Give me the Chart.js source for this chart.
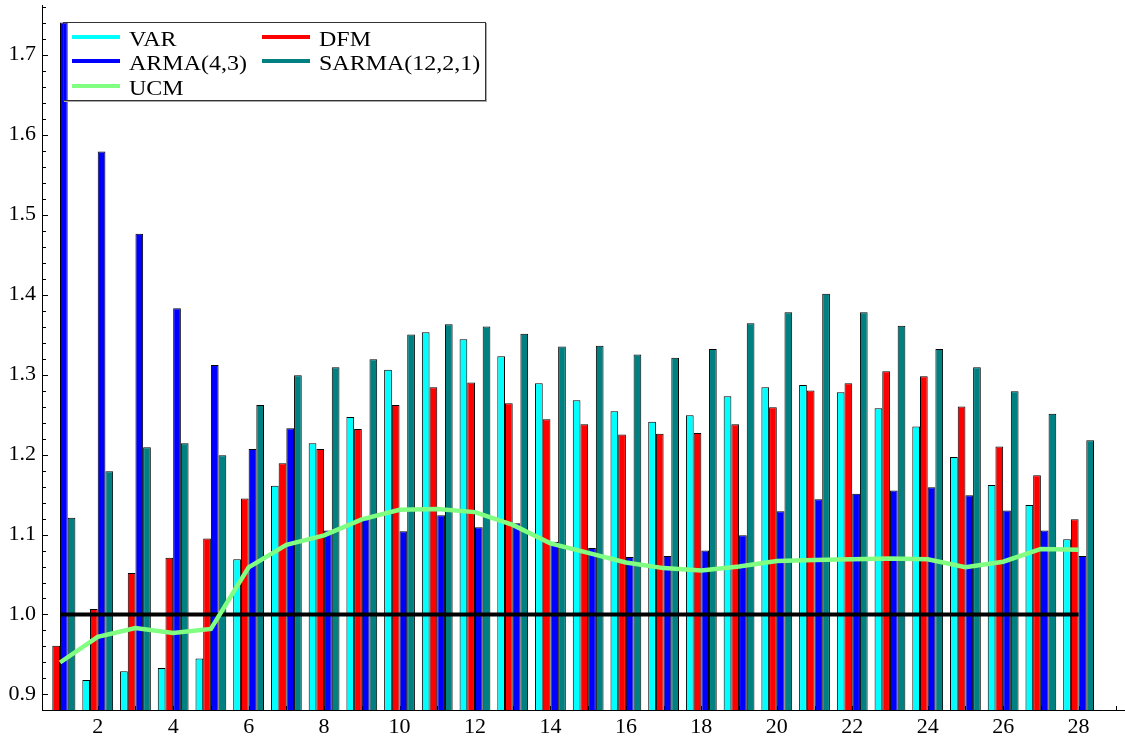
<!DOCTYPE html>
<html>
<head>
<meta charset="utf-8">
<script src="https://cdn.jsdelivr.net/npm/chart.js@4/dist/chart.umd.min.js"></script>
<style>
  html, body { margin: 0; padding: 0; background: #fff; }
  #wrap { position: relative; width: 1125px; height: 737px; }
  #legend {
    position: absolute; left: 63px; top: 22px; width: 423px; height: 79px;
    box-sizing: border-box; border: 1px solid #333; box-shadow: 1px 1px 0 #aaa;
    font-family: "Liberation Serif", "Times New Roman", Times, serif; font-size: 20.5px; color: #000;
  }
  .item { position: absolute; height: 24px; line-height: 24px; display: flex; align-items: center; white-space: nowrap; }
  .swatch { width: 48px; height: 4px; margin-right: 9px; position: relative; top: -2px; flex: none; }
  .label { display: inline-block; transform: scaleX(1.17); transform-origin: 0 50%; }
</style>
</head>
<body>
<div id="wrap">
  <canvas id="c" width="1125" height="737"></canvas>
  <div id="legend"></div>
</div>
<script>
// Forecast horizon (months ahead)
const horizons = [1, 2, 3, 4, 5, 6, 7, 8, 9, 10, 11, 12, 13, 14, 15, 16, 17, 18, 19, 20, 21, 22, 23, 24, 25, 26, 27, 28];

// Relative forecast error of each model per horizon
const varRatio   = [null, 0.918, 0.929, 0.933, 0.945, 1.069, 1.161, 1.214, 1.247, 1.306, 1.353, 1.344, 1.323, 1.289,
                    1.268, 1.254, 1.241, 1.249, 1.273, 1.284, 1.287, 1.278, 1.258, 1.235, 1.197, 1.162, 1.137, 1.094];
const dfmRatio   = [0.961, 1.007, 1.052, 1.071, 1.095, 1.145, 1.189, 1.207, 1.232, 1.262, 1.284, 1.290, 1.264, 1.244,
                    1.238, 1.225, 1.226, 1.227, 1.238, 1.259, 1.280, 1.289, 1.304, 1.298, 1.260, 1.210, 1.174, 1.119];
const armaRatio  = [1.740, 1.579, 1.476, 1.383, 1.312, 1.207, 1.233, 1.105, 1.119, 1.104, 1.124, 1.109, 1.114, 1.091,
                    1.083, 1.072, 1.073, 1.080, 1.099, 1.129, 1.144, 1.151, 1.155, 1.159, 1.149, 1.130, 1.105, 1.073];
const sarmaRatio = [1.121, 1.179, 1.209, 1.214, 1.199, 1.262, 1.299, 1.309, 1.319, 1.350, 1.363, 1.360, 1.351, 1.335,
                    1.336, 1.325, 1.321, 1.332, 1.364, 1.378, 1.401, 1.378, 1.361, 1.332, 1.309, 1.279, 1.251, 1.218];
const ucmRatio   = [0.940, 0.972, 0.983, 0.977, 0.982, 1.059, 1.087, 1.099, 1.119, 1.131, 1.132, 1.128, 1.112, 1.089,
                    1.077, 1.065, 1.058, 1.055, 1.060, 1.067, 1.068, 1.069, 1.070, 1.069, 1.059, 1.066, 1.082, 1.081];

// Benchmark level (ratio = 1)
const benchmark = 1.0;

// Axis tick labels
const xTickValues = [2, 4, 6, 8, 10, 12, 14, 16, 18, 20, 22, 24, 26, 28];
const yTickValues = [0.9, 1.0, 1.1, 1.2, 1.3, 1.4, 1.5, 1.6, 1.7];

const SERIF = '"Liberation Serif", "Times New Roman", Times, serif';

const toPoints = values => horizons.map((h, i) => ({ x: h, y: values[i] }));

const barSeries = (label, values, color) => ({
  type: 'bar', label, data: toPoints(values),
  backgroundColor: color, borderColor: '#000', borderWidth: 1,
  barPercentage: 1.0, categoryPercentage: 0.816, order: 2
});

// Inward tick marks on the left and bottom axes
const innerTicks = {
  id: 'innerTicks',
  beforeDatasetsDraw(chart) {
    const { ctx, chartArea: a, scales: { x, y } } = chart;
    ctx.save();
    ctx.strokeStyle = '#000';
    ctx.lineWidth = 1;
    ctx.beginPath();
    for (let k = 44; k <= 88; k++) {
      const py = Math.round(y.getPixelForValue(k / 50)) + 0.5;
      if (py < a.top || py > a.bottom) continue;
      const len = (k % 5 === 0) ? 6 : 4;
      ctx.moveTo(a.left, py);
      ctx.lineTo(a.left + len, py);
    }
    for (let v = 1; v <= 29; v++) {
      const px = Math.round(x.getPixelForValue(v)) + 0.5;
      ctx.moveTo(px, a.bottom);
      ctx.lineTo(px, a.bottom - 4);
    }
    ctx.stroke();
    ctx.restore();
  }
};

new Chart(document.getElementById('c'), {
  type: 'bar',
  data: {
    datasets: [
      {
        type: 'line', label: 'UCM', data: toPoints(ucmRatio),
        borderColor: '#80ff80', borderWidth: 4.5, pointRadius: 0, tension: 0, fill: false, order: 0
      },
      {
        type: 'line', label: 'benchmark',
        data: [{ x: horizons[0], y: benchmark }, { x: horizons[horizons.length - 1], y: benchmark }],
        borderColor: '#000', borderWidth: 4, pointRadius: 0, fill: false, order: 1
      },
      barSeries('VAR', varRatio, '#00ffff'),
      barSeries('DFM', dfmRatio, '#ff0000'),
      barSeries('ARMA(4,3)', armaRatio, '#0000ff'),
      barSeries('SARMA(12,2,1)', sarmaRatio, '#008080')
    ]
  },
  options: {
    responsive: false,
    devicePixelRatio: 1,
    animation: false,
    events: [],
    layout: { padding: { top: 5, right: 0, left: 0, bottom: 0 } },
    plugins: { legend: { display: false }, tooltip: { enabled: false } },
    scales: {
      x: {
        type: 'linear', min: 0.523, max: 29.23, offset: false,
        grid: { display: false, drawTicks: false },
        border: { display: true, color: '#000', width: 1 },
        afterBuildTicks: s => { s.ticks = xTickValues.map(v => ({ value: v })); },
        afterFit: s => { s.height = 27; s.paddingLeft = 0; s.paddingRight = 0; },
        ticks: {
          autoSkip: false, maxRotation: 0, padding: 4, color: '#000',
          font: { family: SERIF, size: 22 },
          callback: v => String(v)
        }
      },
      y: {
        type: 'linear', min: 0.8806, max: 1.762,
        grid: { display: false, drawTicks: false },
        border: { display: true, color: '#000', width: 1 },
        afterBuildTicks: s => { s.ticks = yTickValues.map(v => ({ value: v })); },
        afterFit: s => { s.width = 42; s.paddingTop = 0; s.paddingBottom = 0; },
        ticks: {
          padding: 6, color: '#000',
          font: { family: SERIF, size: 22 },
          callback: v => Number(v).toFixed(1)
        }
      }
    }
  },
  plugins: [innerTicks]
});

// Legend: two columns, three rows
const legendItems = [
  { label: 'VAR', color: '#00ffff', left: 8, row: 0 },
  { label: 'DFM', color: '#ff0000', left: 198, row: 0 },
  { label: 'ARMA(4,3)', color: '#0000ff', left: 8, row: 1 },
  { label: 'SARMA(12,2,1)', color: '#008080', left: 198, row: 1 },
  { label: 'UCM', color: '#80ff80', left: 8, row: 2 }
];
const rowCenters = [16, 40, 65];
const legendBox = document.getElementById('legend');
legendItems.forEach(it => {
  const el = document.createElement('div');
  el.className = 'item';
  el.style.left = it.left + 'px';
  el.style.top = (rowCenters[it.row] - 12) + 'px';
  const sw = document.createElement('span');
  sw.className = 'swatch';
  sw.style.background = it.color;
  const tx = document.createElement('span');
  tx.className = 'label';
  tx.textContent = it.label;
  el.appendChild(sw);
  el.appendChild(tx);
  legendBox.appendChild(el);
});
</script>
</body>
</html>
